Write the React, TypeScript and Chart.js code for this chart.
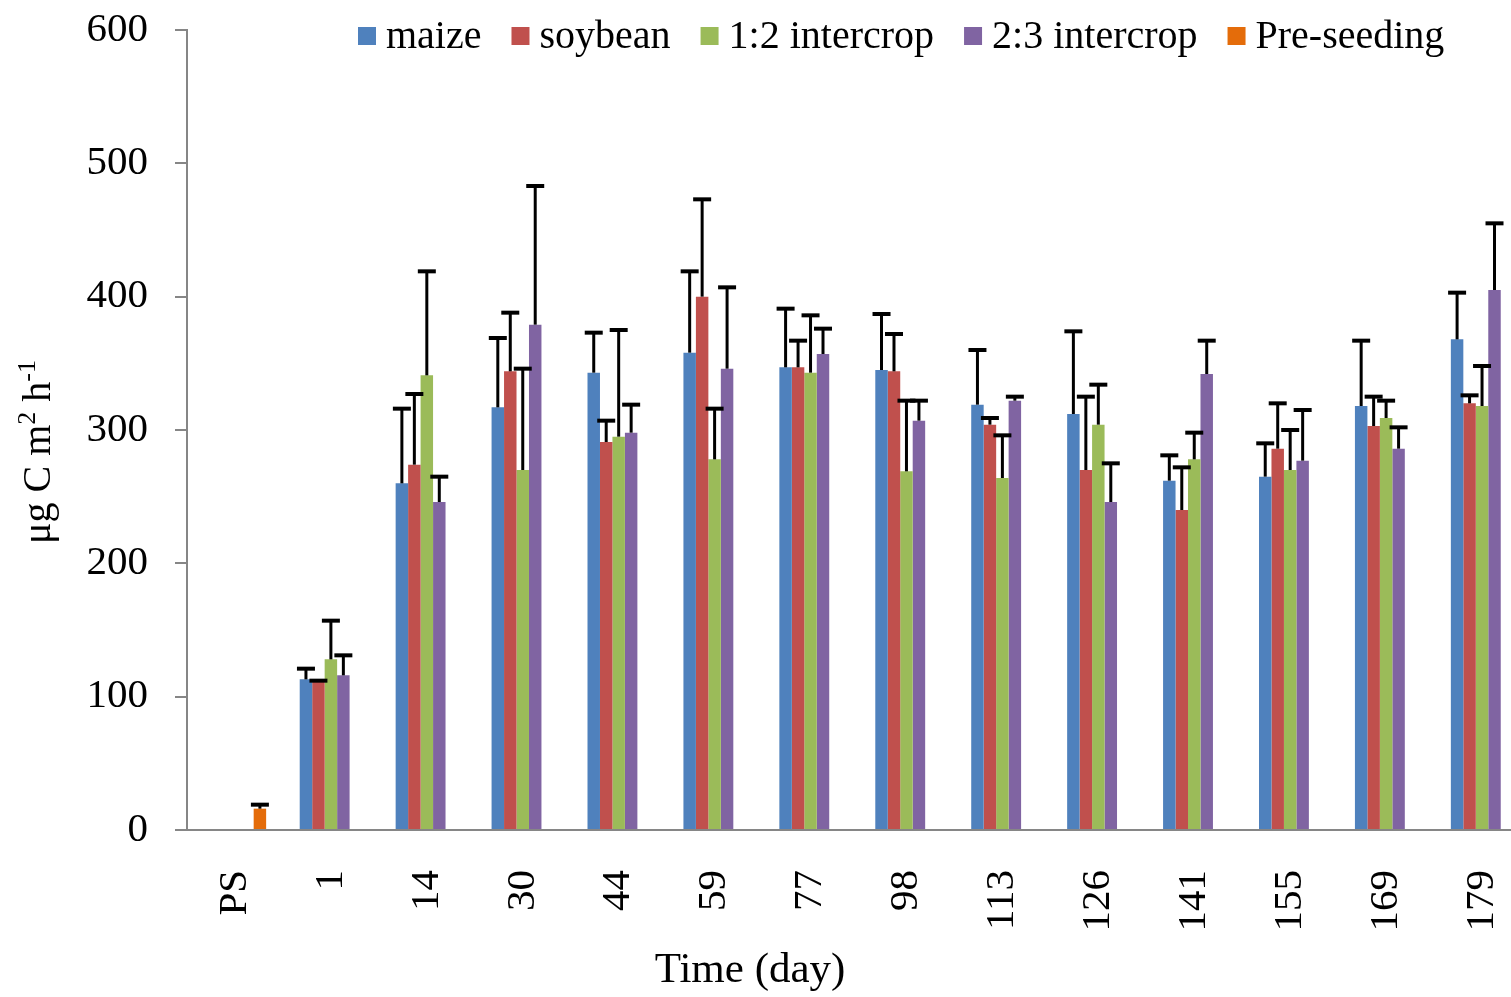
import React, { useEffect, useRef } from 'react';
import { Chart, registerables } from 'chart.js';

Chart.register(...registerables);

const categories = ['PS', '1', '14', '30', '44', '59', '77', '98', '113', '126', '141', '155', '169', '179'];

const maize = [null, 113, 260, 317, 343, 358, 347, 345, 319, 312, 262, 265, 318, 368];
const maizeErr = [null, 8, 56, 52, 30, 61, 44, 42, 41, 62, 19, 25, 49, 35];

const soybean = [null, 111, 274, 344, 291, 400, 347, 344, 304, 270, 240, 286, 303, 320];
const soybeanErr = [null, 1, 53, 44, 16, 73, 20, 28, 5, 55, 32, 34, 22, 6];

const intercrop12 = [null, 128, 341, 270, 295, 278, 343, 269, 264, 304, 278, 270, 309, 318];
const intercrop12Err = [null, 29, 78, 76, 80, 38, 43, 53, 32, 30, 20, 30, 13, 30];

const intercrop23 = [null, 116, 246, 379, 298, 346, 357, 307, 322, 246, 342, 277, 286, 405];
const intercrop23Err = [null, 15, 19, 104, 21, 61, 19, 15, 3, 29, 25, 38, 16, 50];

const preSeeding = [16, null, null, null, null, null, null, null, null, null, null, null, null, null];
const preSeedingErr = [3, null, null, null, null, null, null, null, null, null, null, null, null, null];

const yTicks = [0, 100, 200, 300, 400, 500, 600];

const FONT = '"Liberation Serif", "Times New Roman", serif';

export default function App() {
  const ref = useRef<HTMLCanvasElement>(null);

  useEffect(() => {
    if (!ref.current) return;

    const errorBars = {
      id: 'errorBars',
      afterDatasetsDraw(chart: any) {
        const ctx = chart.ctx;
        const ys = chart.scales.y;
        chart.data.datasets.forEach((ds: any, di: number) => {
          const meta = chart.getDatasetMeta(di);
          meta.data.forEach((bar: any, i: number) => {
            const v = ds.data[i];
            const e = ds.errors ? ds.errors[i] : null;
            if (v == null || e == null) return;
            const x = bar.x;
            const y0 = ys.getPixelForValue(v);
            const y1 = ys.getPixelForValue(v + e);
            ctx.save();
            ctx.strokeStyle = '#000';
            ctx.lineWidth = 3;
            ctx.beginPath();
            ctx.moveTo(x, y0);
            ctx.lineTo(x, y1);
            ctx.stroke();
            ctx.lineWidth = 4;
            ctx.beginPath();
            ctx.moveTo(x - 9, y1);
            ctx.lineTo(x + 9, y1);
            ctx.stroke();
            ctx.restore();
          });
        });
      },
    };

    const decorations = {
      id: 'decorations',
      afterDraw(chart: any) {
        const ctx = chart.ctx;
        ctx.save();
        ctx.fillStyle = '#000';
        // legend
        ctx.font = `40px ${FONT}`;
        ctx.textBaseline = 'alphabetic';
        ctx.textAlign = 'left';
        let x = 358;
        chart.data.datasets.forEach((ds: any) => {
          ctx.fillStyle = ds.backgroundColor;
          ctx.fillRect(x, 27, 18, 18);
          ctx.fillStyle = '#000';
          ctx.fillText(ds.label, x + 28, 48);
          x += 28 + ctx.measureText(ds.label).width + 30;
        });
        // x title
        ctx.font = `43px ${FONT}`;
        ctx.textAlign = 'center';
        ctx.fillText('Time (day)', 750, 982);
        // y title with superscripts
        ctx.translate(50, 452);
        ctx.rotate(-Math.PI / 2);
        const parts = [
          { t: 'μg C m', s: 40, dy: 0 },
          { t: '2', s: 26, dy: -15 },
          { t: ' h', s: 40, dy: 0 },
          { t: '-1', s: 26, dy: -15 },
        ];
        let total = 0;
        parts.forEach((p) => {
          ctx.font = `${p.s}px ${FONT}`;
          total += ctx.measureText(p.t).width;
        });
        let px = -total / 2;
        ctx.textAlign = 'left';
        parts.forEach((p) => {
          ctx.font = `${p.s}px ${FONT}`;
          ctx.fillText(p.t, px, p.dy);
          px += ctx.measureText(p.t).width;
        });
        ctx.restore();
      },
    };

    const chart = new Chart(ref.current, {
      type: 'bar',
      data: {
        labels: categories,
        datasets: [
          { label: 'maize', data: maize, errors: maizeErr, backgroundColor: '#4F81BD' } as any,
          { label: 'soybean', data: soybean, errors: soybeanErr, backgroundColor: '#C0504D' } as any,
          { label: '1:2 intercrop', data: intercrop12, errors: intercrop12Err, backgroundColor: '#9BBB59' } as any,
          { label: '2:3 intercrop', data: intercrop23, errors: intercrop23Err, backgroundColor: '#8064A2' } as any,
          { label: 'Pre-seeding', data: preSeeding, errors: preSeedingErr, backgroundColor: '#E46C0A' } as any,
        ],
      },
      options: {
        responsive: false,
        animation: false,
        layout: { padding: { top: 30, right: 5, left: 0, bottom: 0 } },
        datasets: { bar: { categoryPercentage: 0.65, barPercentage: 1 } },
        plugins: {
          legend: { display: false },
          tooltip: { enabled: false },
          title: { display: false },
        },
        scales: {
          x: {
            offset: true,
            grid: { display: false, drawTicks: true, tickLength: 40 },
            border: { display: true, color: '#868686', width: 2 },
            ticks: {
              autoSkip: false,
              minRotation: 90,
              maxRotation: 90,
              padding: 0,
              color: '#000',
              font: { family: FONT, size: 41 },
            },
            afterFit: (scale: any) => {
              scale.height = 167;
              scale.paddingLeft = 0;
              scale.paddingRight = 0;
            },
          },
          y: {
            min: 0,
            max: 600,
            afterBuildTicks: (scale: any) => {
              scale.ticks = yTicks.map((v) => ({ value: v }));
            },
            grid: {
              display: true,
              drawOnChartArea: false,
              drawTicks: true,
              tickLength: 12,
              color: '#868686',
              lineWidth: 2,
            },
            border: { display: true, color: '#868686', width: 2 },
            ticks: {
              padding: 27,
              color: '#000',
              font: { family: FONT, size: 41 },
            },
            afterFit: (scale: any) => {
              scale.width = 187;
              scale.paddingTop = 0;
              scale.paddingBottom = 0;
            },
          },
        },
      },
      plugins: [errorBars, decorations],
    });

    return () => chart.destroy();
  }, []);

  return (
    <div
      style={{
        position: 'fixed',
        left: 0,
        top: 0,
        width: 1511,
        height: 997,
        overflow: 'hidden',
        background: '#fff',
      }}
    >
      <canvas ref={ref} width={1535} height={997} style={{ display: 'block' }} />
    </div>
  );
}
